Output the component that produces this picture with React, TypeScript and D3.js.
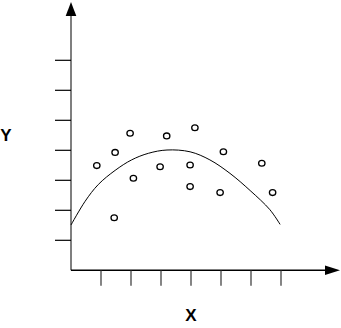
import React from "react";
import * as d3 from "d3";

const pointX = [0.86, 1.47, 1.97, 1.44, 2.08, 2.97, 3.19, 4.13, 3.97, 3.97, 5.08, 4.97, 6.36, 6.72];
const pointY = [3.49, 3.93, 4.57, 1.75, 3.07, 3.45, 4.48, 4.75, 3.51, 2.79, 3.95, 2.59, 3.57, 2.59];

const curveX = [0, 0.47, 0.91, 1.47, 2.02, 2.58, 3.2, 3.97, 4.63, 5.3, 5.97, 6.63, 6.97];
const curveY = [1.51, 2.3, 2.86, 3.33, 3.68, 3.9, 4.01, 3.95, 3.68, 3.23, 2.66, 2.02, 1.53];

const xTicks = [1, 2, 3, 4, 5, 6, 7];
const yTicks = [1, 2, 3, 4, 5, 6, 7];

const xLabel = "X";
const yLabel = "Y";

export default function App() {
  const W = 341;
  const H = 328;
  const x = d3.scaleLinear().domain([0, 9]).range([71, 341]);
  const y = d3.scaleLinear().domain([0, 9]).range([270.3, 0.3]);

  const line = d3
    .line<number>()
    .x((_, i) => x(curveX[i]))
    .y((_, i) => y(curveY[i]))
    .curve(d3.curveCatmullRom.alpha(0.5));

  const x0 = x(0);
  const y0 = y(0);

  return (
    <svg
      width={W}
      height={H}
      style={{ position: "absolute", left: 0, top: 0, background: "#fff" }}
    >
      {/* y axis */}
      <line x1={x0} y1={y0} x2={x0} y2={14} stroke="#555" strokeWidth={1.5} />
      <path d={`M${x0},2 L${x0 - 5.3},16 L${x0 + 5.3},16 Z`} fill="#000" />
      {/* x axis */}
      <line x1={x0} y1={y0} x2={327} y2={y0} stroke="#000" strokeWidth={1.5} />
      <path d={`M340,${y0} L325,${y0 - 4.7} L325,${y0 + 4.7} Z`} fill="#000" />
      {yTicks.map((t) => (
        <line key={"yt" + t} x1={55} x2={x0} y1={y(t)} y2={y(t)} stroke="#000" strokeWidth={1.2} />
      ))}
      {xTicks.map((t) => (
        <line key={"xt" + t} x1={x(t)} x2={x(t)} y1={y0} y2={285.7} stroke="#333" strokeWidth={1.2} />
      ))}
      <path d={line(curveX) || ""} fill="none" stroke="#000" strokeWidth={1} />
      {pointX.map((px, i) => (
        <ellipse
          key={"p" + i}
          cx={x(px)}
          cy={y(pointY[i])}
          rx={3.2}
          ry={2.9}
          fill="none"
          stroke="#000"
          strokeWidth={1.3}
        />
      ))}
      <text
        x={6}
        y={141}
        textAnchor="middle"
        fontFamily="Liberation Sans, Arial, sans-serif"
        fontWeight="bold"
        fontSize={17}
      >
        {yLabel}
      </text>
      <text
        x={190.8}
        y={321}
        textAnchor="middle"
        fontFamily="Liberation Sans, Arial, sans-serif"
        fontWeight="bold"
        fontSize={17}
      >
        {xLabel}
      </text>
    </svg>
  );
}
